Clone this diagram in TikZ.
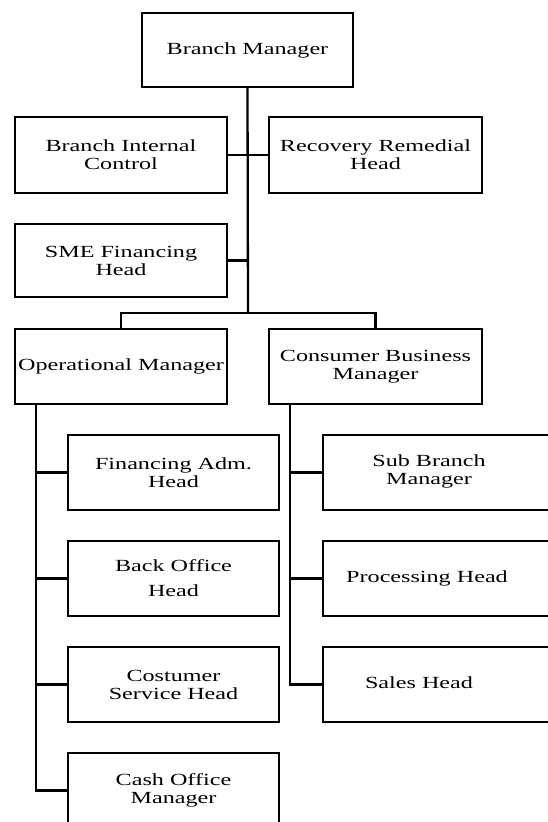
\documentclass[tikz,border=0pt]{standalone}
\usepackage{fontspec}
\setmainfont{Liberation Serif}[FakeStretch=1.42]
\begin{document}
\begin{tikzpicture}[x=1pt,y=-1pt,
  box/.style={draw=black, line width=2.3pt, minimum width=211pt, minimum height=75pt, inner sep=0pt, align=center, font=\fontsize{17}{18}\selectfont},
  txt/.style={inner sep=0pt, align=center, font=\fontsize{17}{18}\selectfont},
  conn/.style={draw=black, line width=2.3pt}]
\useasboundingbox (0,0) rectangle (548,822);
\clip (0,0) rectangle (548,822);
% top level
\node[box, minimum height=74pt] (bm) at (247.5,50) {Branch Manager};
\node[box, minimum width=212pt, minimum height=76pt] (bic) at (121,155) {Branch Internal\\Control};
\node[box, minimum width=213pt, minimum height=76pt] (rrh) at (375.5,155) {Recovery Remedial\\Head};
\node[box, minimum width=212pt, minimum height=73pt] (sme) at (121,260.5) {SME Financing\\Head};
\node[box, minimum width=212pt] (om) at (121,366.5) {Operational Manager};
\node[box, minimum width=213pt] (cbm) at (375.5,366.5) {Consumer Business\\Manager};
% left column
\node[box] (fah) at (173.5,472.5) {Financing Adm.\\Head};
\node[box] (boh) at (173.5,578.5) {Back Office\\[7pt]Head};
\node[box] (csh) at (173.5,684.5) {Costumer\\Service Head};
\node[box] (com) at (173.5,790.5) {Cash Office\\Manager};
% right column (cut off at the right edge)
\node[box, minimum width=247pt] (sbm) at (446.5,472.5) {};
\node[box, minimum width=247pt] (ph) at (446.5,578.5) {};
\node[box, minimum width=247pt] (sh) at (446.5,684.5) {};
\node[txt] (sbmt) at (429,471.5) {Sub Branch\\Manager};
\node[txt] (pht) at (427,578) {Processing Head};
\node[txt] (sht) at (419,683) {Sales Head};
% connectors
\coordinate (bus) at (248,313);
\draw[conn] (bm.south) -- (bus);
\draw[conn] (bic.east) -- (rrh.west);
\draw[conn] (sme.east) -- (sme.east -| bus);
\draw[conn] (om.north) |- (bus) -| (cbm.north);
\coordinate (omS) at ([xshift=22pt]om.south west);
\coordinate (cbmS) at ([xshift=22pt]cbm.south west);
\draw[conn] (omS) |- (com.west);
\draw[conn] (fah.west) -- (fah.west -| omS);
\draw[conn] (boh.west) -- (boh.west -| omS);
\draw[conn] (csh.west) -- (csh.west -| omS);
\draw[conn] (cbmS) |- (sh.west);
\draw[conn] (sbm.west) -- (sbm.west -| cbmS);
\draw[conn] (ph.west) -- (ph.west -| cbmS);
\end{tikzpicture}
\end{document}
